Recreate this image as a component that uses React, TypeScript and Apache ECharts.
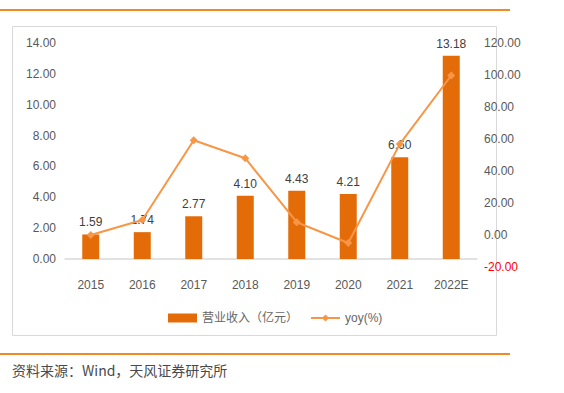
import React, { useEffect, useRef } from "react";
import * as echarts from "echarts";

const categories = ["2015", "2016", "2017", "2018", "2019", "2020", "2021", "2022E"];
const revenue = [1.59, 1.74, 2.77, 4.10, 4.43, 4.21, 6.60, 13.18];
const yoy = [0, 9.4, 59.2, 48.0, 8.0, -5.0, 56.8, 99.7];
const revenueName = "营业收入（亿元）";
const yoyName = "yoy(%)";
const sourceText = "资料来源：Wind，天风证券研究所";

export default function App() {
  const ref = useRef<HTMLDivElement>(null);
  useEffect(() => {
    if (!ref.current) return;
    const chart = echarts.init(ref.current, null, { renderer: "svg" });
    const labelColor = "#595959";
    const font = "Arial, 'Liberation Sans', 'Noto Sans CJK SC', sans-serif";
    chart.setOption({
      animation: false,
      textStyle: { fontFamily: font },
      grid: [
        { left: 65, right: 87, top: 43, height: 216 },
        { left: 65, right: 87, top: 43, height: 224 },
      ],
      xAxis: [
        {
          type: "category",
          gridIndex: 0,
          data: categories,
          axisLine: { lineStyle: { color: "#D9D9D9", width: 1.5 } },
          axisTick: { show: false },
          axisLabel: { color: labelColor, fontSize: 12, margin: 20, fontFamily: font },
        },
        {
          type: "category",
          gridIndex: 1,
          data: categories,
          show: false,
        },
      ],
      yAxis: [
        {
          type: "value",
          gridIndex: 0,
          min: 0,
          max: 14,
          interval: 2,
          splitLine: { show: false },
          axisLine: { show: false },
          axisTick: { show: false },
          axisLabel: {
            color: labelColor,
            fontSize: 12,
            margin: 9,
            fontFamily: font,
            formatter: (v: number) => v.toFixed(2),
          },
        },
        {
          type: "value",
          gridIndex: 1,
          position: "right",
          min: -20,
          max: 120,
          interval: 20,
          splitLine: { show: false },
          axisLine: { show: false },
          axisTick: { show: false },
          axisLabel: {
            color: labelColor,
            fontSize: 12,
            margin: 7,
            fontFamily: font,
            formatter: (v: number) => (v < 0 ? "{neg|" + v.toFixed(2) + "}" : v.toFixed(2)),
            rich: { neg: { color: "#FF0000", fontSize: 12, fontFamily: font } },
          },
        },
      ],
      legend: {
        left: 163,
        top: 307,
        itemWidth: 29,
        itemHeight: 9,
        itemGap: 12,
        textStyle: { color: "#666666", fontSize: 12, fontFamily: font },
        data: [
          { name: revenueName, icon: "rect" },
          { name: yoyName },
        ],
      },
      series: [
        {
          name: revenueName,
          type: "bar",
          xAxisIndex: 0,
          yAxisIndex: 0,
          data: revenue,
          barWidth: 17,
          itemStyle: { color: "#E36C09" },
          label: {
            show: true,
            position: "top",
            distance: 6,
            color: "#404040",
            fontSize: 12,
            fontFamily: font,
            formatter: (p: any) => Number(p.value).toFixed(2),
          },
          z: 2,
        },
        {
          name: yoyName,
          type: "line",
          xAxisIndex: 1,
          yAxisIndex: 1,
          data: yoy,
          symbol: "diamond",
          symbolSize: 8,
          lineStyle: { color: "#F79646", width: 2 },
          itemStyle: { color: "#F79646" },
          z: 3,
        },
      ],
      graphic: [
        { type: "line", shape: { x1: 0, y1: 10, x2: 510, y2: 10 }, style: { stroke: "#F08A24", lineWidth: 2 } },
        { type: "rect", shape: { x: 12.5, y: 26.5, width: 484, height: 309 }, style: { fill: "none", stroke: "#D9D9D9", lineWidth: 1 }, z: -1 },
        { type: "line", shape: { x1: 0, y1: 354, x2: 510, y2: 354 }, style: { stroke: "#F08A24", lineWidth: 2 } },
        {
          type: "text",
          left: 12,
          top: 363,
          style: { text: sourceText, fill: "#4a4a4a", fontSize: 14, fontFamily: "'Noto Sans CJK SC', sans-serif" },
        },
      ],
    });
    return () => chart.dispose();
  }, []);
  return (
    <div
      ref={ref}
      style={{ position: "fixed", left: 0, top: 0, width: 564, height: 393, background: "#fff" }}
    />
  );
}
